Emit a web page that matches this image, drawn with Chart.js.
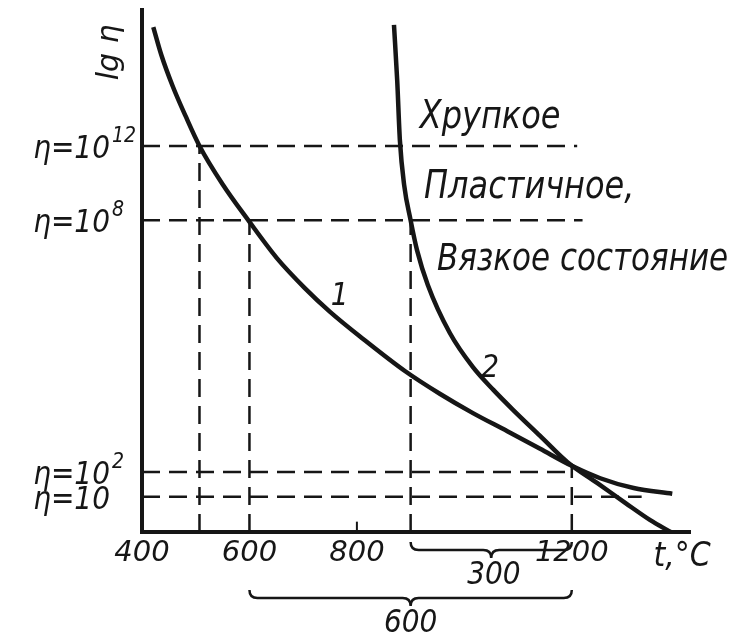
<!DOCTYPE html>
<html>
<head>
    <title>Вязкость стекла</title>
    <script src="https://cdn.jsdelivr.net/npm/chart.js"></script>
    <style>
        body { margin: 0; background: #fff; }
    </style>
</head>
<body>
    <canvas id="viscChart" width="740" height="638"></canvas>

    <script>
        // Температура, °C
        const xTicks = [400, 600, 800, 1200];
        const minorTicks = [800];

        // Уровни вязкости (высота на схеме, ось не масштабная)
        const levelBase = ['η=10', 'η=10', 'η=10', 'η=10'];
        const levelExp = ['12', '8', '2', ''];
        const levelY = [74.7, 60.3, 11.6, 6.8];
        const levelEnd = [1210, 1220, 1200, 1330];

        // Вертикальные пунктиры
        const guideT = [507, 600, 900, 1200];
        const guideTop = [74.7, 60.3, 60.3, 12.8];

        // Кривая 1
        const curve1T = [421, 436, 457, 481, 507, 550, 598, 651, 703, 750, 811, 890, 955, 1016, 1080, 1141, 1200, 1253, 1315, 1387];
        const curve1V = [97.7, 92.3, 86.3, 80.5, 74.7, 67.3, 60.3, 53.0, 47.2, 42.6, 37.4, 31.1, 26.7, 23.0, 19.5, 16.1, 12.8, 10.4, 8.5, 7.4];

        // Кривая 2
        const curve2T = [869, 875, 880, 888, 900, 912, 932, 973, 1016, 1054, 1091, 1141, 1192, 1247, 1300, 1346, 1384];
        const curve2V = [98.1, 87.4, 75.8, 67.1, 60.3, 54.5, 47.8, 38.5, 31.9, 27.5, 23.6, 18.6, 13.5, 9.5, 5.6, 2.3, 0];

        const stateLabels = ['Хрупкое', 'Пластичное,', 'Вязкое состояние'];
        const curveNames = ['1', '2'];
        const spanLabels = ['300', '600'];

        const FONT = '"DejaVu Sans", sans-serif';
        const INK = '#161616';

        const pts = (xs, ys) => xs.map((v, i) => ({ x: v, y: ys[i] }));

        const datasets = [];
        // горизонтальные пунктиры
        levelY.forEach((v, i) => {
            datasets.push({
                data: [{ x: 400, y: v }, { x: levelEnd[i], y: v }],
                borderColor: INK, borderWidth: 2.5, borderDash: [18, 9]
            });
        });
        // вертикальные пунктиры
        guideT.forEach((t, i) => {
            datasets.push({
                data: [{ x: t, y: 0 }, { x: t, y: guideTop[i] }],
                borderColor: INK, borderWidth: 2.5, borderDash: [18, 9]
            });
        });
        // короткие риски на оси
        minorTicks.forEach(t => {
            datasets.push({
                data: [{ x: t, y: 0 }, { x: t, y: 2 }],
                borderColor: INK, borderWidth: 2
            });
        });
        // кривые
        datasets.push({ data: pts(curve1T, curve1V), borderColor: INK, borderWidth: 4.5, cubicInterpolationMode: 'monotone' });
        datasets.push({ data: pts(curve2T, curve2V), borderColor: INK, borderWidth: 4.5, cubicInterpolationMode: 'monotone' });

        function brace(ctx, x1, x2, y, d) {
            const mid = (x1 + x2) / 2;
            ctx.beginPath();
            ctx.moveTo(x1, y - d);
            ctx.quadraticCurveTo(x1, y, x1 + d, y);
            ctx.lineTo(mid - d, y);
            ctx.quadraticCurveTo(mid, y, mid, y + d);
            ctx.quadraticCurveTo(mid, y, mid + d, y);
            ctx.lineTo(x2 - d, y);
            ctx.quadraticCurveTo(x2, y, x2, y - d);
            ctx.stroke();
        }

        // текст чуть вытянут по вертикали, как в оригинале
        function tall(ctx, str, x, y, k = 1.15) {
            ctx.save();
            ctx.translate(x, y);
            ctx.scale(1, k);
            ctx.fillText(str, 0, 0);
            ctx.restore();
        }

        const notes = {
            id: 'notes',
            afterDraw(chart) {
                const { ctx, scales: { x, y } } = chart;
                const axisY = y.getPixelForValue(0);
                ctx.save();
                ctx.fillStyle = INK;
                ctx.strokeStyle = INK;

                // подписи уровней η
                ctx.textBaseline = 'alphabetic';
                levelY.forEach((v, i) => {
                    const py = y.getPixelForValue(v);
                    ctx.font = 'italic 28px ' + FONT;
                    ctx.textAlign = 'right';
                    tall(ctx, levelBase[i], x.left - 32, py + 12);
                    ctx.font = 'italic 19px ' + FONT;
                    ctx.textAlign = 'left';
                    tall(ctx, levelExp[i], x.left - 30, py - 4);
                });

                // подпись оси lg η
                ctx.save();
                ctx.translate(x.left - 32, y.getPixelForValue(92.8));
                ctx.rotate(-Math.PI / 2);
                ctx.font = 'italic 30px ' + FONT;
                ctx.textAlign = 'center';
                ctx.textBaseline = 'middle';
                ctx.fillText('lg η', 0, 0);
                ctx.restore();

                // состояния
                ctx.textBaseline = 'alphabetic';
                ctx.textAlign = 'left';
                ctx.font = 'italic 32px ' + FONT;
                tall(ctx, stateLabels[0], x.getPixelForValue(917), y.getPixelForValue(78.1), 1.2);
                tall(ctx, stateLabels[1], x.getPixelForValue(925), y.getPixelForValue(64.6), 1.2);
                ctx.font = 'italic 31px ' + FONT;
                tall(ctx, stateLabels[2], x.getPixelForValue(949), y.getPixelForValue(50.7), 1.2);

                // номера кривых
                ctx.textAlign = 'center';
                ctx.font = 'italic 28px ' + FONT;
                tall(ctx, curveNames[0], x.getPixelForValue(768), y.getPixelForValue(44));
                tall(ctx, curveNames[1], x.getPixelForValue(1048), y.getPixelForValue(30));

                // t, °C
                ctx.textAlign = 'left';
                ctx.font = 'italic 30px ' + FONT;
                tall(ctx, 't,°C', x.getPixelForValue(1352), axisY + 34);

                // скобки
                ctx.lineWidth = 2.5;
                brace(ctx, x.getPixelForValue(900), x.getPixelForValue(1200), axisY + 18, 8);
                brace(ctx, x.getPixelForValue(600), x.getPixelForValue(1200), axisY + 66, 8);
                ctx.textAlign = 'center';
                ctx.font = 'italic 28px ' + FONT;
                tall(ctx, spanLabels[0], x.getPixelForValue(1055), axisY + 52);
                tall(ctx, spanLabels[1], x.getPixelForValue(900), axisY + 100);
                ctx.restore();
            }
        };

        const ctx = document.getElementById('viscChart').getContext('2d');
        const viscChart = new Chart(ctx, {
            type: 'scatter',
            data: { datasets },
            options: {
                responsive: false,
                animation: false,
                showLine: true,
                elements: { point: { radius: 0, hoverRadius: 0 }, line: { fill: false } },
                layout: { padding: { top: 10, right: 50, left: 0, bottom: 0 } },
                plugins: { legend: { display: false }, tooltip: { enabled: false } },
                scales: {
                    x: {
                        type: 'linear', min: 400, max: 1420,
                        afterBuildTicks: s => { s.ticks = xTicks.map(v => ({ value: v })); },
                        afterFit: s => { s.height = 106; },
                        grid: { display: false, drawTicks: false },
                        border: { display: true, color: INK, width: 4 },
                        ticks: {
                            color: INK, padding: 4, maxRotation: 0,
                            font: { family: FONT, size: 29, style: 'italic' },
                            callback: v => String(v)
                        }
                    },
                    y: {
                        type: 'linear', min: 0, max: 101,
                        afterBuildTicks: s => { s.ticks = levelY.map(v => ({ value: v })); },
                        afterFit: s => { s.width = 142; },
                        grid: { display: false, drawTicks: false },
                        border: { display: true, color: INK, width: 4 },
                        ticks: { display: false }
                    }
                }
            },
            plugins: [notes]
        });
    </script>
</body>
</html>
